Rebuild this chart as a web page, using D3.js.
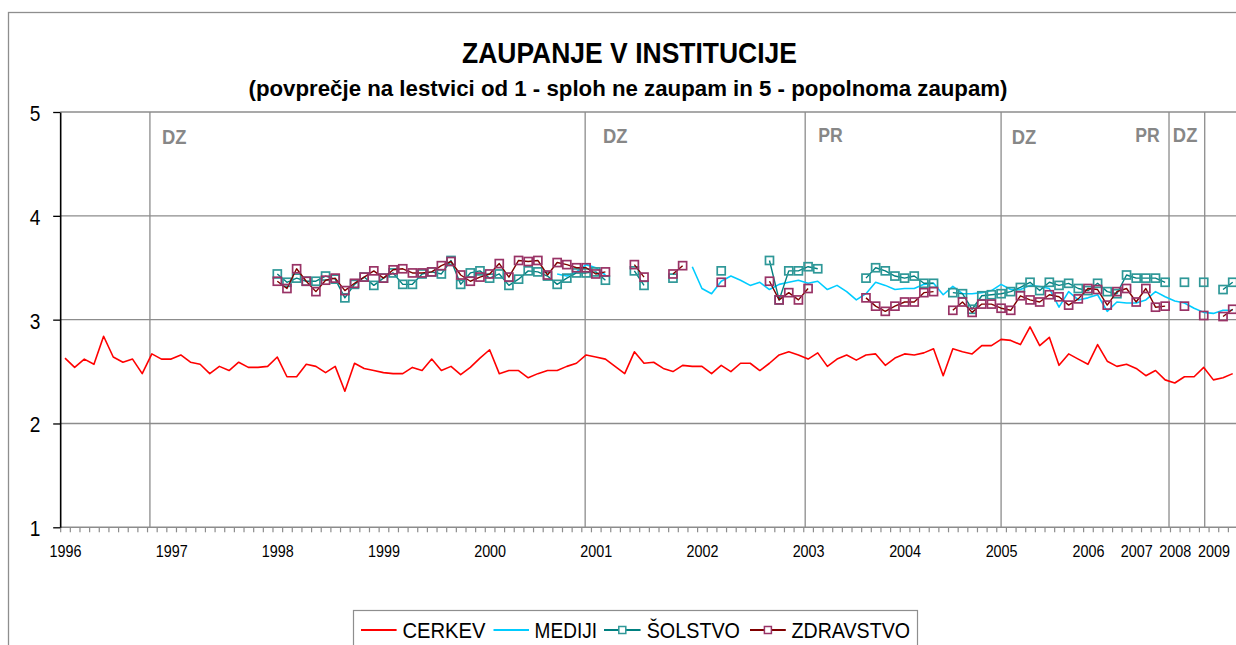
<!DOCTYPE html>
<html><head><meta charset="utf-8">
<script src="https://cdn.jsdelivr.net/npm/d3@7"></script>
<style>html,body{margin:0;padding:0;background:#fff;overflow:hidden}
svg{font-family:"Liberation Sans",Arial,sans-serif;display:block}</style>
</head><body><svg id="c" width="1236" height="645"></svg>
<script>
// ---------- DATA ----------
// survey waves (category index), one per survey, 1996 .. early 2009
const waves = d3.range(122);
const yearLabels = ["1996","1997","1998","1999","2000","2001","2002","2003","2004","2005","2006","2007","2008","2009"];
const yearWave   = [0, 11, 22, 33, 44, 55, 66, 77, 87, 97, 106, 111, 115, 119];
// elections (DZ = parliament, PR = president) as wave positions
const eventWave  = [8.8, 53.9, 76.7, 97.0, 114.4, 118.1];
const eventNames = ["DZ","DZ","PR","DZ","PR","DZ"];
const seriesNames = ["CERKEV","MEDIJI","ŠOLSTVO","ZDRAVSTVO"];
const yTicks = [1,2,3,4,5];

const cerkev = [
2.63,2.54,2.62,2.57,2.84,2.64,2.59,2.62,2.48,2.67,
2.62,2.62,2.66,2.59,2.57,2.48,2.55,2.51,2.59,2.54,
2.54,2.55,2.64,2.45,2.45,2.57,2.55,2.49,2.55,2.31,
2.58,2.53,2.51,2.49,2.48,2.48,2.54,2.51,2.62,2.51,
2.55,2.47,2.54,2.63,2.71,2.48,2.51,2.51,2.44,2.48,
2.51,2.51,2.55,2.58,2.66,2.64,2.62,2.55,2.48,2.69,
2.58,2.59,2.53,2.50,2.56,2.55,2.55,2.48,2.56,2.50,
2.58,2.58,2.51,2.58,2.66,2.69,2.66,2.62,2.68,2.55,
2.62,2.66,2.61,2.66,2.67,2.56,2.63,2.67,2.66,2.68,
2.72,2.46,2.72,2.69,2.67,2.75,2.75,2.81,2.80,2.76,
2.93,2.75,2.83,2.56,2.67,2.62,2.57,2.76,2.60,2.55,
2.57,2.53,2.46,2.51,2.42,2.39,2.45,2.45,2.54,2.42,
2.44,2.48];

const mediji = [
null,null,null,null,null,null,null,null,null,null,
null,null,null,null,null,null,null,null,null,null,
null,null,null,null,null,null,null,null,null,null,
null,null,null,null,null,null,null,null,null,null,
null,null,null,null,null,null,null,null,null,null,
null,3.44,3.42,3.46,3.53,3.50,3.43,null,null,null,
null,null,null,null,null,3.51,3.30,3.25,3.37,3.42,
3.38,3.33,3.36,3.29,3.34,3.36,3.38,3.35,3.37,3.29,
3.33,3.27,3.19,3.25,3.36,3.33,3.29,3.30,3.30,3.34,
3.35,3.24,3.32,3.25,3.25,3.26,3.28,3.34,3.29,3.29,
3.33,3.32,3.30,3.12,3.27,3.19,3.21,3.24,3.08,3.17,
3.16,3.16,3.19,3.27,3.22,3.18,3.16,3.11,3.07,3.06,
3.09,3.09];

const solstvo = [
null,null,null,null,null,null,null,null,null,null,
null,null,null,null,null,null,null,null,null,null,
null,null,3.44,3.36,3.40,3.37,3.37,3.42,3.39,3.21,
3.34,3.41,3.33,3.40,3.45,3.34,3.34,3.44,3.46,3.44,
3.57,3.34,3.45,3.47,3.40,3.44,3.33,3.39,3.47,3.46,
3.42,3.34,3.40,3.45,3.45,3.46,3.38,null,null,3.47,
3.33,null,null,3.40,null,null,null,null,3.47,null,
null,null,null,3.57,3.19,3.47,3.47,3.51,3.49,null,
null,null,null,3.40,3.50,3.47,3.42,3.40,3.42,3.35,
3.35,null,3.26,3.25,3.10,3.23,3.24,3.25,3.27,3.31,
3.36,3.28,3.36,3.33,3.35,3.30,3.28,3.35,3.27,3.25,
3.43,3.40,3.40,3.40,3.36,null,3.36,null,3.36,null,
3.29,3.36];

const zdravstvo = [
null,null,null,null,null,null,null,null,null,null,
null,null,null,null,null,null,null,null,null,null,
null,null,3.37,3.30,3.49,3.37,3.27,3.38,3.40,3.28,
3.35,3.41,3.47,3.40,3.48,3.49,3.45,3.45,3.46,3.52,
3.56,3.43,3.37,3.41,3.44,3.54,3.41,3.57,3.56,3.57,
3.43,3.55,3.53,3.50,3.50,3.44,3.46,null,null,3.53,
3.41,null,null,3.44,3.52,null,null,null,3.36,null,
null,null,null,3.37,3.19,3.26,3.19,3.30,null,null,
null,null,null,3.21,3.13,3.08,3.13,3.17,3.17,3.26,
3.27,null,3.09,3.17,3.07,3.15,3.15,3.11,3.09,3.23,
3.19,3.17,3.24,3.22,3.14,3.20,3.30,3.29,3.14,3.27,
3.30,3.17,3.30,3.12,3.13,null,3.13,null,3.04,null,
3.03,3.10];

// ---------- LAYOUT / STYLE ----------
const SQ = 0.87;            // horizontal squeeze of the original picture
const FONT = '"Liberation Sans",Arial,sans-serif';
const svg = d3.select('#c');
const x = d3.scaleLinear().domain([0, 121]).range([65, 1232.7]);
const y = d3.scaleLinear().domain([1, 5]).range([527.3, 112]);
const xL = x(-0.5), xR = x(121.5);
const gridCol = '#8c8c8c';

svg.append('rect').attr('width',1236).attr('height',645).attr('fill','#fff');
// outer chart frame
svg.append('rect').attr('x',8.5).attr('y',12.5).attr('width',1500).attr('height',900)
  .attr('fill','none').attr('stroke','#8e8e8e').attr('stroke-width',1.3);

// title
svg.append('text').attr('x',629.5).attr('y',63.3).attr('text-anchor','middle')
  .attr('font-weight','bold').attr('font-size',30).attr('textLength',335).attr('lengthAdjust','spacingAndGlyphs')
  .text('ZAUPANJE V INSTITUCIJE');
svg.append('text').attr('x',628).attr('y',95.5).attr('text-anchor','middle')
  .attr('font-weight','bold').attr('font-size',21.5).attr('textLength',759).attr('lengthAdjust','spacingAndGlyphs')
  .text('(povprečje na lestvici od 1 - sploh ne zaupam in 5 - popolnoma zaupam)');

// horizontal gridlines
svg.append('g').selectAll('line').data(yTicks.slice(1)).join('line')
  .attr('x1',xL).attr('x2',xR).attr('y1',d=>y(d)).attr('y2',d=>y(d))
  .attr('stroke',gridCol).attr('stroke-width',1.3);

// election lines
svg.append('g').selectAll('line').data(eventWave).join('line')
  .attr('x1',d=>x(d)).attr('x2',d=>x(d)).attr('y1',y(5)).attr('y2',y(1))
  .attr('stroke',gridCol).attr('stroke-width',1.3);
// election labels (layout offsets)
const evLabelWave = [10.05, 55.75, 78.06, 98.1, 110.9, 114.8];
const evLabelBase = [144, 142.7, 141.7, 144, 141.7, 141.7];
svg.append('g').selectAll('text').data(eventNames).join('text')
  .attr('x',(d,i)=>x(evLabelWave[i])).attr('y',(d,i)=>evLabelBase[i])
  .attr('font-size',20).attr('font-weight','bold').attr('fill','#878787')
  .attr('textLength',24.5).attr('lengthAdjust','spacingAndGlyphs').text(d=>d);

// x axis: category boundary ticks
const xAxisTicks = svg.append('g').attr('transform',`translate(0,${y(1)})`)
  .call(d3.axisBottom(x).tickValues(d3.range(-0.5, 122, 1)).tickSize(5).tickSizeOuter(0).tickFormat(''));
xAxisTicks.select('.domain').remove();
xAxisTicks.selectAll('line').attr('stroke',gridCol).attr('stroke-width',1.2);
svg.append('line').attr('x1',xL).attr('x2',xR).attr('y1',y(1)).attr('y2',y(1))
  .attr('stroke',gridCol).attr('stroke-width',1.5);
// year labels
const xAxisLab = svg.append('g').attr('transform',`translate(0,${y(1)})`)
  .call(d3.axisBottom(x).tickValues(yearWave).tickSize(0).tickFormat((d,i)=>yearLabels[i]));
xAxisLab.select('.domain').remove();
xAxisLab.selectAll('text').attr('font-family',FONT).attr('font-size',16.5).attr('fill','#000')
  .attr('y',29.4).attr('dy',0).attr('transform',`scale(${SQ},1)`);

// y axis
const yAxis = svg.append('g').attr('transform',`translate(${xL},0)`)
  .call(d3.axisLeft(y).tickValues(yTicks).tickSize(7).tickSizeOuter(0).tickFormat(d3.format('d')));
yAxis.select('.domain').attr('stroke','#000').attr('stroke-width',1.6);
yAxis.selectAll('line').attr('stroke','#000').attr('stroke-width',1.3);
yAxis.selectAll('text').attr('font-family',FONT).attr('font-size',22).attr('fill','#000')
  .attr('x',-19.8/SQ).attr('dy',0).attr('y',8.5).attr('transform',`scale(${SQ},1)`);

// series
const line = d3.line().defined(d=>d.v!=null).x(d=>x(d.i)).y(d=>y(d.v));
const pts = arr => waves.map(i=>({i, v: arr[i]}));
const styles = [
  {data:cerkev,    line:'#ff0000', w:1.6, marker:null},
  {data:mediji,    line:'#00ccff', w:1.6, marker:null},
  {data:solstvo,   line:'#008080', w:1.4, marker:'#2f9898'},
  {data:zdravstvo, line:'#800000', w:1.4, marker:'#993366'}
];
const plot = svg.append('g');
styles.forEach(s=>{
  const p = pts(s.data);
  plot.append('path').attr('d',line(p)).attr('fill','none').attr('stroke',s.line)
    .attr('stroke-width',s.w).attr('stroke-linejoin','round');
  if (s.marker) {
    plot.append('g').selectAll('rect').data(p.filter(d=>d.v!=null)).join('rect')
      .attr('x',d=>x(d.i)-4).attr('y',d=>y(d.v)-4).attr('width',8).attr('height',8)
      .attr('fill','none').attr('stroke',s.marker).attr('stroke-width',1.7);
  }
});

// legend
const lg = svg.append('g');
lg.append('rect').attr('x',353.5).attr('y',610.5).attr('width',564).attr('height',80)
  .attr('fill','#fff').attr('stroke','#8e8e8e').attr('stroke-width',1.2);
const lgLine = [[361,396.6],[493.5,529],[604,640.6],[750,785.8]];
const lgText = [[402.5,83],[534.6,62.4],[646.7,93.3],[791.5,118.5]];
seriesNames.forEach((n,i)=>{
  const s = styles[i];
  lg.append('line').attr('x1',lgLine[i][0]).attr('x2',lgLine[i][1]).attr('y1',630).attr('y2',630)
    .attr('stroke',s.line).attr('stroke-width',2);
  if (s.marker) {
    const cx = (lgLine[i][0]+lgLine[i][1])/2;
    lg.append('rect').attr('x',cx-3.5).attr('y',626.5).attr('width',7).attr('height',7)
      .attr('fill','#fff').attr('stroke',s.marker).attr('stroke-width',1.5);
  }
  lg.append('text').attr('x',lgText[i][0]).attr('y',637.7).attr('font-size',22.5)
    .attr('textLength',lgText[i][1]).attr('lengthAdjust','spacingAndGlyphs').text(n);
});
</script></body></html>
